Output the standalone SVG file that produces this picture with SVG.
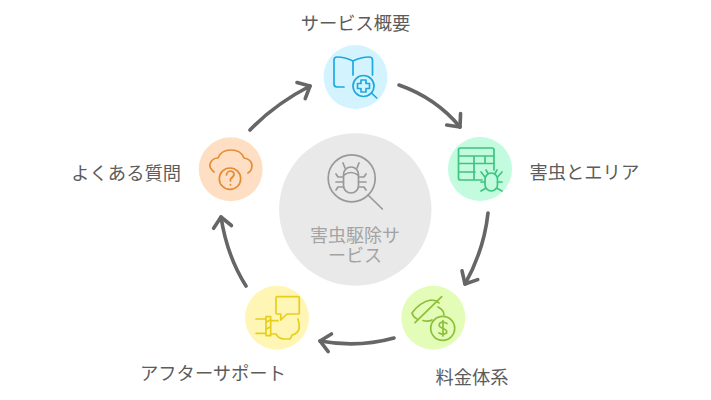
<svg xmlns="http://www.w3.org/2000/svg" width="711" height="400" viewBox="0 0 711 400">
<defs>
<style>
text{font-family:"Noto Sans CJK JP","Noto Sans",sans-serif;font-size:18.3px;fill:#5c5c5c}
.c{stroke:#666;stroke-width:3.6;fill:none;stroke-linecap:round;stroke-linejoin:round}
.i{fill:none;stroke-width:1.7;stroke-linecap:round;stroke-linejoin:round}
</style>
<marker id="a" markerUnits="userSpaceOnUse" markerWidth="24" markerHeight="24" refX="20" refY="12" orient="auto"><path d="M10 3L20 12L10 21" fill="none" stroke="#666" stroke-width="3.6" stroke-linecap="round" stroke-linejoin="round"/></marker>
</defs>
<rect width="711" height="400" fill="#fff"/>
<g id="connectors">
<path class="c" d="M399 85Q436 98 460 127" marker-end="url(#a)"/>
<path class="c" d="M488 213Q484 250 465 284" marker-end="url(#a)"/>
<path class="c" d="M394 338Q358 348 320 341" marker-end="url(#a)"/>
<path class="c" d="M246 286Q227 256 221 217" marker-end="url(#a)"/>
<path class="c" d="M250 130Q275 104 310 86" marker-end="url(#a)"/>
</g>
<g id="center">
<circle cx="355.300" cy="209.500" r="76.200" fill="#e9e9e9"/>
<g class="i" stroke="#999">
<circle cx="351.700" cy="178.300" r="23.500"/>
<path d="M368 195L382.300 209"/>
<rect x="343.500" y="167" width="15" height="26" rx="7.500"/>
<path d="M344 175Q351 170 358 175M345 168L343 163M357 168L359 163M343.500 177H338L336 174M358.500 177H364L366 174M343.500 182H336M358.500 182H366M343.500 187H338L336 190M358.500 187H364L366 190"/>
</g>
<text text-anchor="middle" style="fill:#a3a3a3;font-size:18px"><tspan x="355" y="241.500">害虫駆除サ</tspan><tspan x="355" y="262">ービス</tspan></text>
</g>
<g id="node-overview">
<circle cx="355.500" cy="77" r="32" fill="#d3f4fe"/>
<g class="i" stroke="#1fa8de">
<path d="M353 61V75M353 61Q345 57 337 57Q334 57 334 60V84Q334 87 337 87H344M353 61Q361 57 369 57Q372.500 57 372.500 60V75"/>
<circle cx="363.500" cy="86" r="10.500"/>
<path d="M361 80H366V83.500H369.500V88.500H366V92H361V88.500H357.500V83.500H361Z"/>
<path d="M371.500 93L376.700 98"/>
</g>
<text x="355.500" y="29.500" text-anchor="middle">サービス概要</text>
</g>
<g id="node-area">
<circle cx="480" cy="169" r="32" fill="#c3fbdf"/>
<g class="i" stroke="#3fc480">
<path d="M494 170V150Q494 148 492 148H460.500Q458.500 148 458.500 150V178Q458.500 180 460.500 180H482M458.500 156H494M458.500 163.500H494M458.500 172H475M474 156V180M485 156V163.500"/>
<rect x="485" y="173" width="12.500" height="18" rx="6.250"/>
<path d="M485 177L481 172M497.500 177L502 172M485 182H481M497.500 182H502M486 188L481 191M496.500 188L502 191M488 173.500L486 170M495 173.500L497 170"/>
</g>
<text x="529.500" y="179">害虫とエリア</text>
</g>
<g id="node-pricing">
<circle cx="433.300" cy="317.700" r="32" fill="#e3fdb8"/>
<g class="i" stroke="#8ebf3a">
<path d="M412 313Q420 302 431 300Q436 300 439 303M412 313Q413 317 417 319M423 320.500Q428 322 432 320M438 307Q444 310 444 315M415 322.700L441.700 296.700"/>
<circle cx="442.700" cy="328.300" r="12"/>
<path d="M447 323.500Q443 321 440 323Q437.500 326 442 328Q448 330 446.500 333Q443 335.500 439 333M443 320.500V336"/>
</g>
<text x="472" y="384" text-anchor="middle">料金体系</text>
</g>
<g id="node-support">
<circle cx="277" cy="317.700" r="32" fill="#fff5b5"/>
<g class="i" stroke="#e6cf1c">
<path d="M277 296.700H298Q299.300 296.700 299.300 298V313Q299.300 314 298 314H287L280.700 320V314H277.500Q276 314 276 313V298Q276 296.700 277 296.700Z"/>
<path d="M256 319H266M256 333.300H266M266 316.700H270.700V335.700H266Z"/>
<path d="M270.700 320.700H278M270.700 334H276Q279 339 284 339H290Q292 336 292 335Q298 334 299.300 328Q299.500 323 298 319"/>
<path d="M266.500 322L270 320M266.500 329L270 327"/>
</g>
<text x="213" y="380" text-anchor="middle">アフターサポート</text>
</g>
<g id="node-faq">
<circle cx="230.700" cy="169.300" r="32" fill="#fedfc3"/>
<g class="i" stroke="#e48b36">
<path d="M214 172Q209 168 210 164Q212 158 218 158Q221 150 231 150Q241 150 244 158Q251 159 252 165Q252 171 248 173"/>
<circle cx="230" cy="178.700" r="10.700"/>
<path d="M226.500 175Q227 171 231 171Q234.500 172 234 175Q233 177 230.500 179V181M230.500 184.500V185"/>
</g>
<text x="181" y="180" text-anchor="end">よくある質問</text>
</g>
</svg>
